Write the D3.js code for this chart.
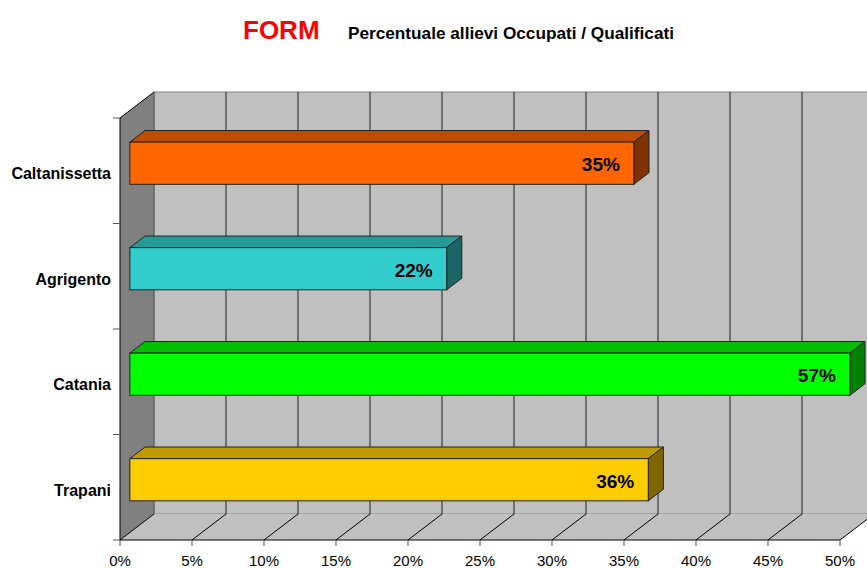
<!DOCTYPE html>
<html>
<head>
<meta charset="utf-8">
<script src="https://cdn.jsdelivr.net/npm/d3@7"></script>
<style>
  body { margin: 0; background: #fff; }
  text { font-family: "Liberation Sans", Arial, sans-serif; }
</style>
</head>
<body>
<svg id="chart" width="867" height="568"></svg>
<script>
// dati
const categories = ["Caltanissetta", "Agrigento", "Catania", "Trapani"];
const values = [35, 22, 57, 36];
const barColors = ["#FF6600", "#33CCCC", "#00FF00", "#FFCC00"];
const xTicks = [0, 5, 10, 15, 20, 25, 30, 35, 40, 45, 50];
const titleMain = "FORM";
const titleSub = "Percentuale allievi Occupati / Qualificati";

const svg = d3.select("#chart");

// geometria 3D (pavimento anteriore + profondita')
const ox = 120, oy = 540, plotTop = 118;
const dx = 34, dy = -26;
const zFront = 0.29, zBack = 0.735;

const x = d3.scaleLinear().domain([0, 50]).range([ox, ox + 720]);
const y = d3.scaleBand().domain(categories).range([plotTop, oy])
  .paddingInner(0.6).paddingOuter(0.3);

function shade(c, k) {
  const r = d3.rgb(c);
  return d3.rgb(r.r * k, r.g * k, r.b * k).formatHex();
}
const pts = a => a.map(p => p.join(",")).join(" ");

const xEnd = x(50);

// parete sinistra
svg.append("polygon")
  .attr("points", pts([[ox, plotTop], [ox + dx, plotTop + dy], [ox + dx, oy + dy], [ox, oy]]))
  .attr("fill", "#808080");

// parete di fondo
svg.append("rect")
  .attr("x", ox + dx).attr("y", plotTop + dy)
  .attr("width", xEnd - ox).attr("height", oy - plotTop)
  .attr("fill", "#C0C0C0").attr("stroke", "#808080");

// pavimento
svg.append("polygon")
  .attr("points", pts([[ox, oy], [ox + dx, oy + dy], [xEnd + dx, oy + dy], [xEnd, oy]]))
  .attr("fill", "#C0C0C0");

// griglia verticale sul fondo
svg.append("g").selectAll("line")
  .data(xTicks.filter(t => t > 0))
  .join("line")
  .attr("x1", d => x(d) + dx).attr("x2", d => x(d) + dx)
  .attr("y1", plotTop + dy).attr("y2", oy + dy)
  .attr("stroke", "#222").attr("stroke-width", 1);

// linee diagonali sul pavimento
svg.append("g").selectAll("line")
  .data(xTicks)
  .join("line")
  .attr("x1", d => x(d)).attr("y1", oy)
  .attr("x2", d => x(d) + dx).attr("y2", oy + dy)
  .attr("stroke", "#000").attr("stroke-width", 1);

// bordi pareti
svg.append("line")
  .attr("x1", ox + dx).attr("x2", ox + dx)
  .attr("y1", plotTop + dy).attr("y2", oy + dy)
  .attr("stroke", "#555");
svg.append("line")
  .attr("x1", ox).attr("y1", plotTop)
  .attr("x2", ox + dx).attr("y2", plotTop + dy)
  .attr("stroke", "#000");

// asse x
svg.append("line")
  .attr("x1", ox).attr("x2", xEnd)
  .attr("y1", oy).attr("y2", oy)
  .attr("stroke", "#000");
svg.append("g").selectAll("line")
  .data(xTicks)
  .join("line")
  .attr("x1", d => x(d)).attr("x2", d => x(d))
  .attr("y1", oy).attr("y2", oy + 6)
  .attr("stroke", "#555");
svg.append("g").selectAll("text")
  .data(xTicks)
  .join("text")
  .attr("x", d => x(d)).attr("y", 566)
  .attr("text-anchor", "middle")
  .attr("font-size", 15)
  .text(d => d + "%");

// asse categorie
svg.append("line")
  .attr("x1", ox).attr("x2", ox)
  .attr("y1", plotTop).attr("y2", oy)
  .attr("stroke", "#000");
const step = y.step();
svg.append("g").selectAll("line")
  .data(d3.range(categories.length + 1))
  .join("line")
  .attr("x1", ox - 7).attr("x2", ox)
  .attr("y1", i => plotTop + i * step).attr("y2", i => plotTop + i * step)
  .attr("stroke", "#555");
svg.append("g").selectAll("text")
  .data(categories)
  .join("text")
  .attr("x", 111)
  .attr("y", d => y(d) + y.bandwidth() / 2 + 8.5)
  .attr("text-anchor", "end")
  .attr("font-size", 16)
  .attr("font-weight", "bold")
  .text(d => d);

// barre 3D
const fdx = dx * zFront, fdy = dy * zFront;
const ddx = dx * (zBack - zFront), ddy = dy * (zBack - zFront);

const bars = svg.append("g").selectAll("g")
  .data(categories.map((c, i) => ({ c, v: values[i], col: barColors[i] })))
  .join("g");

bars.each(function (d) {
  const g = d3.select(this);
  const x0 = ox + fdx;
  const x1 = x(Math.min(d.v, 50)) + fdx;
  const y0 = y(d.c) + fdy;
  const y1 = y0 + y.bandwidth();

  g.append("polygon")
    .attr("points", pts([[x0, y0], [x0 + ddx, y0 + ddy], [x1 + ddx, y0 + ddy], [x1, y0]]))
    .attr("fill", shade(d.col, 0.75))
    .attr("stroke", "#222").attr("stroke-linejoin", "round");
  g.append("polygon")
    .attr("points", pts([[x1, y0], [x1 + ddx, y0 + ddy], [x1 + ddx, y1 + ddy], [x1, y1]]))
    .attr("fill", shade(d.col, 0.5))
    .attr("stroke", "#222").attr("stroke-linejoin", "round");
  g.append("rect")
    .attr("x", x0).attr("y", y0)
    .attr("width", x1 - x0).attr("height", y1 - y0)
    .attr("fill", d.col)
    .attr("stroke", "#222");
  g.append("text")
    .attr("x", x1 - 14)
    .attr("y", (y0 + y1) / 2 + 8)
    .attr("text-anchor", "end")
    .attr("font-size", 19)
    .attr("font-weight", "bold")
    .text(d.v + "%");
});

// titolo
svg.append("text")
  .attr("x", 243).attr("y", 39)
  .attr("font-size", 26).attr("font-weight", "bold")
  .attr("fill", "#FF0000")
  .text(titleMain);
svg.append("text")
  .attr("x", 348).attr("y", 39)
  .attr("font-size", 17).attr("font-weight", "bold")
  .attr("textLength", 326).attr("lengthAdjust", "spacingAndGlyphs")
  .text(titleSub);
</script>
</body>
</html>
